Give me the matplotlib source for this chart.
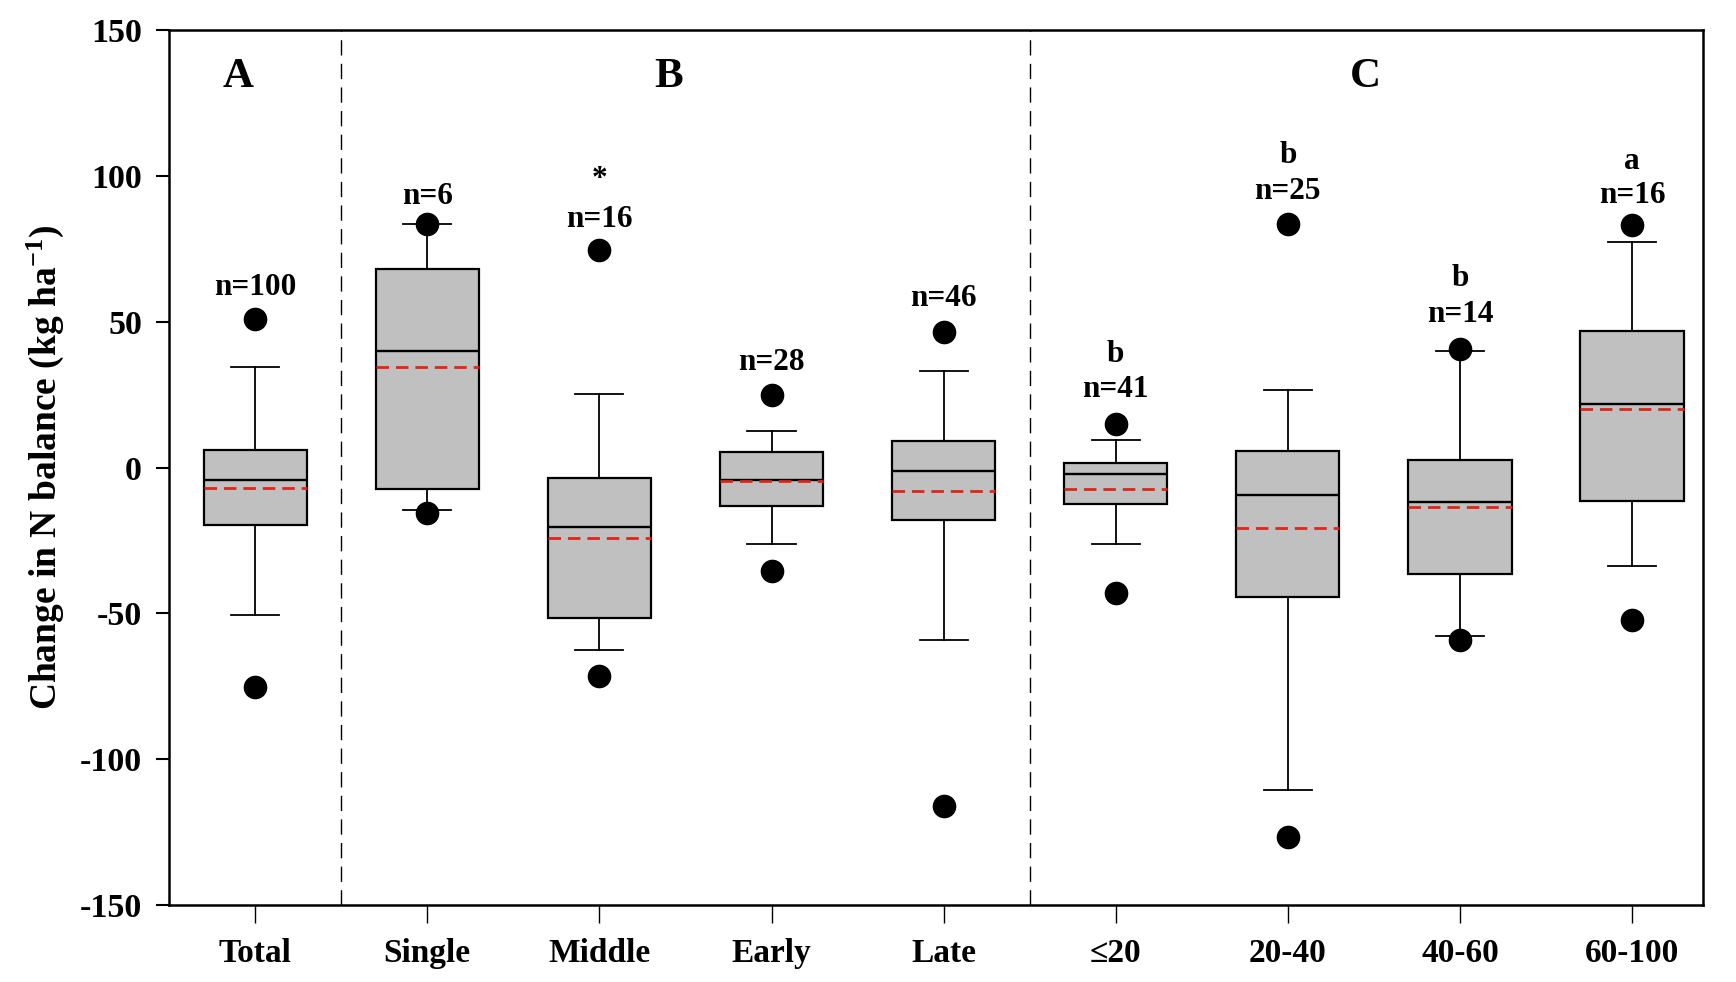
import matplotlib.pyplot as plt

# ---- data ----
categories = ['Total', 'Single', 'Middle', 'Early', 'Late', '≤20', '20-40', '40-60', '60-100']
q3     = [6.1, 68.3, -3.4, 5.3, 9.2, 1.5, 5.7, 2.7, 46.9]
q1     = [-19.8, -7.3, -51.5, -13.0, -17.9, -12.6, -44.3, -36.6, -11.5]
median = [-4.2, 40.1, -20.2, -4.2, -1.1, -2.3, -9.5, -11.8, 21.8]
mean   = [-6.9, 34.7, -24.0, -4.6, -8.0, -7.3, -20.6, -13.4, 20.2]
whi_hi = [34.4, 83.6, 25.2, 12.6, 33.2, 9.5, 26.7, 40.1, 77.5]
whi_lo = [-50.4, -14.5, -62.6, -26.0, -59.2, -26.0, -110.7, -57.6, -33.6]
out_hi = [51.1, 83.6, 74.8, 24.8, 46.6, 14.9, 83.6, 40.8, 83.2]
out_lo = [-75.2, -15.6, -71.4, -35.5, -116.0, -43.1, -126.7, -59.2, -52.3]
n_labels = ['n=100', 'n=6', 'n=16', 'n=28', 'n=46', 'n=41', 'n=25', 'n=14', 'n=16']
n_y      = [61.8, 93.0, 85.0, 36.0, 58.0, 27.0, 94.7, 52.7, 93.5]
sig_labels = ['', '', '*', '', '', 'b', 'b', 'b', 'a']
sig_y      = [0, 0, 99.0, 0, 0, 39.0, 107.0, 65.0, 105.0]
panels   = ['A', 'B', 'C']
panel_x  = [0.9, 3.4, 7.45]
panel_y  = 134
dividers = [1.5, 5.5]

plt.rcParams['font.family'] = ['Liberation Serif', 'DejaVu Serif']
plt.rcParams['font.weight'] = 'bold'
plt.rcParams['axes.unicode_minus'] = False
plt.rcParams['mathtext.fontset'] = 'custom'
plt.rcParams['mathtext.rm'] = 'Liberation Serif:bold'
plt.rcParams['mathtext.default'] = 'rm'

fig = plt.figure(figsize=(17.36, 9.82), dpi=100)
ax = fig.add_axes([0.0974, 0.0784, 0.8834, 0.8906])

pos = list(range(1, len(categories) + 1))
stats = []
for i in range(len(categories)):
    stats.append({'med': median[i], 'q1': q1[i], 'q3': q3[i], 'mean': mean[i],
                  'whislo': whi_lo[i], 'whishi': whi_hi[i],
                  'fliers': [out_hi[i], out_lo[i]]})

ax.bxp(stats, positions=pos, widths=0.6, capwidths=0.28, patch_artist=True,
       showmeans=True, meanline=True,
       boxprops=dict(facecolor='#c0c0c0', edgecolor='black', linewidth=1.6),
       medianprops=dict(color='black', linewidth=1.7),
       meanprops=dict(color='#e0251b', linestyle=(0, (4.5, 2.5)), linewidth=2.0),
       whiskerprops=dict(color='black', linewidth=1.3),
       capprops=dict(color='black', linewidth=1.3),
       flierprops=dict(marker='o', markerfacecolor='black', markeredgecolor='black',
                       markersize=16, linestyle='none'))

for x in dividers:
    ax.axvline(x, color='black', linewidth=1.0, linestyle=(0, (11, 6)))

for i, p in enumerate(pos):
    ax.text(p, n_y[i], n_labels[i], ha='center', va='center', fontsize=22.5, fontweight='bold')
    if sig_labels[i]:
        ax.text(p, sig_y[i], sig_labels[i], ha='center', va='center', fontsize=22.5, fontweight='bold')

for lab, x in zip(panels, panel_x):
    ax.text(x, panel_y, lab, ha='center', va='center', fontsize=31, fontweight='bold')

ax.set_xlim(0.5, 9.41)
ax.set_ylim(-150, 150)
ax.set_yticks([-150, -100, -50, 0, 50, 100, 150])
ax.set_xticks(pos)
ax.set_xticklabels(categories)
ax.tick_params(axis='y', direction='out', length=9.5, width=1.5, labelsize=24.5, pad=10)
ax.tick_params(axis='x', direction='out', length=13, width=1.0, labelsize=24, pad=11)
for s in ax.spines.values():
    s.set_linewidth(1.8)
ax.set_ylabel('Change in N balance (kg ha$^{-1}$)', fontsize=27, fontweight='bold', labelpad=10)

fig.savefig('out.png', dpi=100)
